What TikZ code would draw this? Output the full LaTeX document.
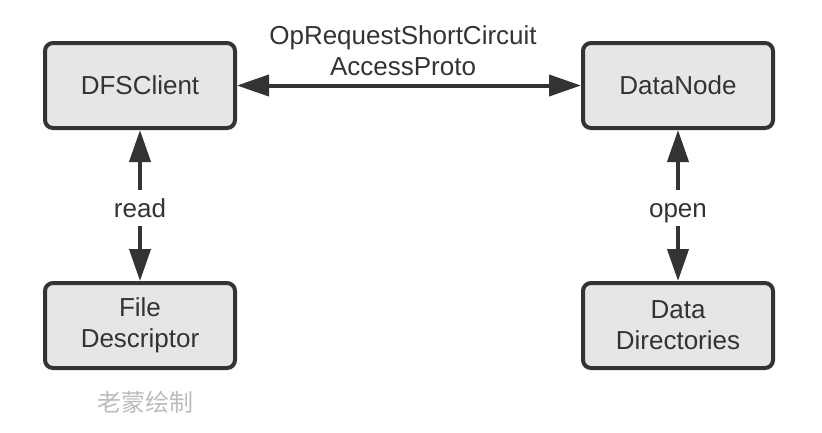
\documentclass[tikz,border=0pt]{standalone}
\usepackage{fontspec}
\setmainfont{Liberation Sans}
\newfontfamily\cjk{Noto Sans CJK SC}
\usetikzlibrary{arrows.meta}
\definecolor{boxfill}{HTML}{E6E6E6}
\definecolor{ink}{HTML}{333333}
\definecolor{mark}{HTML}{BBBBBB}
\begin{document}
\begin{tikzpicture}[x=1pt, y=-1pt,
        font=\fontsize{26}{31}\selectfont,
        comp/.style = {draw=ink, fill=boxfill, line width=4pt, rounded corners=8pt,
                       minimum width=190pt, minimum height=85pt, align=center, text=ink},
        conn/.style = {ink, line width=4pt, {Triangle[length=32pt, width=21pt]}-{Triangle[length=32pt, width=21pt]}},
        lbl/.style = {fill=white, text=ink, inner sep=0pt, minimum height=36pt, text height=19pt, text depth=0pt}]

    \useasboundingbox (0,0) rectangle (822,432);

    % Components
    \node[comp] (DFSClient) at (140,85.5) {DFSClient};
    \node[comp] (DataNode) at (678,85.5) {DataNode};
    \node[comp] (FileDesc) at (140,325.5) {File\\Descriptor};
    \node[comp] (DataDirs) at (678,325.5) {Data\\Directories};

    % Connections
    \draw[conn] (DFSClient) -- node[above=4pt, xshift=-6pt, align=center, text=ink]{OpRequestShortCircuit\\AccessProto} (DataNode);
    \draw[conn] (DFSClient) -- node[lbl, yshift=-2pt]{read} (FileDesc);
    \draw[conn] (DataNode) -- node[lbl, yshift=-2pt]{open} (DataDirs);

    % Watermark
    \node[text=mark, font=\cjk\fontsize{24}{28}\selectfont] (sign) at (145,402) {老蒙绘制};

\end{tikzpicture}
\end{document}
